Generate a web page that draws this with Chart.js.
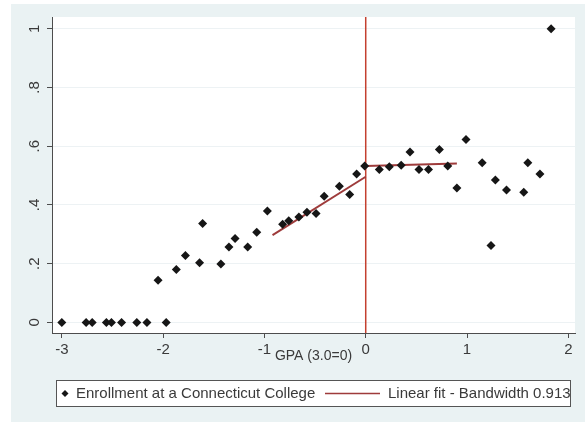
<!DOCTYPE html>
<html>
<head>
  <title>Enrollment by GPA</title>
  <script src="https://cdn.jsdelivr.net/npm/chart.js"></script>
  <style>
    html, body { margin: 0; padding: 0; background: #fff; }
  </style>
</head>
<body>
<canvas id="rdChart" width="585" height="423"></canvas>

<script>
  // Binned enrollment rates by GPA (3.0 = 0)
  const gpaBins = [-3.0, -2.76, -2.70, -2.56, -2.51, -2.41, -2.26, -2.16, -2.05, -1.97,
                   -1.87, -1.78, -1.64, -1.61, -1.43, -1.35, -1.29, -1.165, -1.076, -0.971,
                   -0.82, -0.76, -0.66, -0.58, -0.49, -0.41, -0.26, -0.158, -0.09, -0.01,
                   0.134, 0.233, 0.35, 0.437, 0.526, 0.62, 0.727, 0.81, 0.90, 0.99,
                   1.15, 1.237, 1.28, 1.39, 1.56, 1.60, 1.72, 1.83];
  const enrollRate = [0, 0, 0, 0, 0, 0, 0, 0, 0.144, 0,
                      0.18, 0.228, 0.203, 0.337, 0.199, 0.257, 0.286, 0.257, 0.307, 0.379,
                      0.334, 0.346, 0.359, 0.375, 0.371, 0.43, 0.464, 0.436, 0.505, 0.533,
                      0.521, 0.53, 0.535, 0.58, 0.521, 0.521, 0.589, 0.533, 0.458, 0.623,
                      0.544, 0.262, 0.485, 0.451, 0.443, 0.544, 0.505, 1.0];

  // Linear fits on each side of the cutoff
  const fitLeftX = [-0.92, 0];
  const fitLeftY = [0.297, 0.496];
  const fitRightX = [0, 0.90];
  const fitRightY = [0.533, 0.541];
  const cutoff = 0;

  const xTicks = [-3, -2, -1, 0, 1, 2];
  const yTicks = [0, 0.2, 0.4, 0.6, 0.8, 1];
  const yTickLabels = ['0', '.2', '.4', '.6', '.8', '1'];
  const seriesLabels = ['Enrollment at a Connecticut College', 'Linear fit - Bandwidth 0.913'];
  const xTitle = 'GPA (3.0=0)';

  const markerColor = '#161616';
  const fitColor = '#9e3b3b';
  const cutoffColor = '#c4402f';
  const axisColor = '#4d4d4d';
  const textColor = '#3a3a3a';
  const fontFamily = '"Liberation Sans", Arial, sans-serif';

  Chart.defaults.font.family = fontFamily;

  const toPoints = (xs, ys) => xs.map((x, i) => ({ x: x, y: ys[i] }));

  // Stata-like backgrounds, cutoff line, rotated y labels and boxed legend
  const stataLook = {
    id: 'stataLook',
    beforeDraw(chart) {
      const { ctx, chartArea: a } = chart;
      ctx.save();
      ctx.fillStyle = '#ffffff';
      ctx.fillRect(0, 0, chart.width, chart.height);
      ctx.fillStyle = 'rgb(234,242,243)';
      ctx.fillRect(11, 4, chart.width - 11, 418);
      ctx.fillStyle = '#ffffff';
      ctx.fillRect(a.left, a.top, a.right - a.left, a.bottom - a.top);
      ctx.restore();
    },
    beforeDatasetsDraw(chart) {
      const { ctx, chartArea: a } = chart;
      const px = chart.scales.x.getPixelForValue(cutoff);
      ctx.save();
      ctx.strokeStyle = cutoffColor;
      ctx.lineWidth = 1.5;
      ctx.beginPath();
      ctx.moveTo(px, a.top);
      ctx.lineTo(px, a.bottom);
      ctx.stroke();
      ctx.restore();
    },
    afterDraw(chart) {
      const ctx = chart.ctx;
      const ys = chart.scales.y;
      ctx.save();
      ctx.font = '15px ' + fontFamily;
      ctx.fillStyle = textColor;
      ctx.textAlign = 'center';
      ctx.textBaseline = 'middle';
      yTicks.forEach((v, i) => {
        ctx.save();
        ctx.translate(35, ys.getPixelForValue(v));
        ctx.rotate(-Math.PI / 2);
        ctx.fillText(yTickLabels[i], 0, 0);
        ctx.restore();
      });

      // legend box
      ctx.fillStyle = '#ffffff';
      ctx.fillRect(56.5, 380.5, 514, 26);
      ctx.strokeStyle = '#555';
      ctx.lineWidth = 1;
      ctx.strokeRect(56.5, 380.5, 514, 26);
      const ly = 393.5;
      ctx.fillStyle = markerColor;
      ctx.beginPath();
      ctx.moveTo(65, ly - 3.5);
      ctx.lineTo(68.5, ly);
      ctx.lineTo(65, ly + 3.5);
      ctx.lineTo(61.5, ly);
      ctx.closePath();
      ctx.fill();
      ctx.strokeStyle = fitColor;
      ctx.lineWidth = 1.5;
      ctx.beginPath();
      ctx.moveTo(325, ly);
      ctx.lineTo(380, ly);
      ctx.stroke();
      ctx.fillStyle = textColor;
      ctx.textAlign = 'left';
      ctx.fillText(seriesLabels[0], 76, ly);
      ctx.fillText(seriesLabels[1], 388, ly);
      ctx.restore();
    }
  };

  new Chart(document.getElementById('rdChart'), {
    type: 'scatter',
    data: {
      datasets: [
        {
          label: seriesLabels[0],
          data: toPoints(gpaBins, enrollRate),
          pointStyle: 'rectRot',
          pointRadius: 4.5,
          pointHoverRadius: 4.5,
          backgroundColor: markerColor,
          borderColor: markerColor,
          borderWidth: 0,
          order: 0
        },
        {
          label: seriesLabels[1],
          data: toPoints(fitLeftX, fitLeftY),
          showLine: true,
          borderColor: fitColor,
          borderWidth: 2,
          pointRadius: 0,
          order: 1
        },
        {
          label: seriesLabels[1],
          data: toPoints(fitRightX, fitRightY),
          showLine: true,
          borderColor: fitColor,
          borderWidth: 2,
          pointRadius: 0,
          order: 1
        }
      ]
    },
    options: {
      responsive: false,
      animation: false,
      layout: { padding: { left: 0, top: 17, right: 10, bottom: 0 } },
      plugins: {
        legend: { display: false },
        tooltip: { enabled: false }
      },
      scales: {
        x: {
          type: 'linear',
          min: -3.097,
          max: 2.066,
          afterBuildTicks: s => { s.ticks = xTicks.map(v => ({ value: v })); },
          afterFit: s => { s.height = 90; },
          ticks: { color: textColor, font: { size: 15 }, padding: 3, callback: v => String(v) },
          grid: { drawOnChartArea: false, tickLength: 5, tickColor: axisColor },
          border: { color: axisColor, width: 1 },
          title: {
            display: true,
            text: xTitle,
            color: textColor,
            font: { size: 14 },
            padding: { top: 0, bottom: 58 }
          }
        },
        y: {
          type: 'linear',
          min: -0.036,
          max: 1.04,
          afterBuildTicks: s => { s.ticks = yTicks.map(v => ({ value: v })); },
          afterFit: s => { s.width = 52; },
          ticks: { display: false },
          grid: { color: '#edf2f4', tickLength: 5, tickColor: axisColor },
          border: { color: axisColor, width: 1 }
        }
      }
    },
    plugins: [stataLook]
  });
</script>
</body>
</html>
